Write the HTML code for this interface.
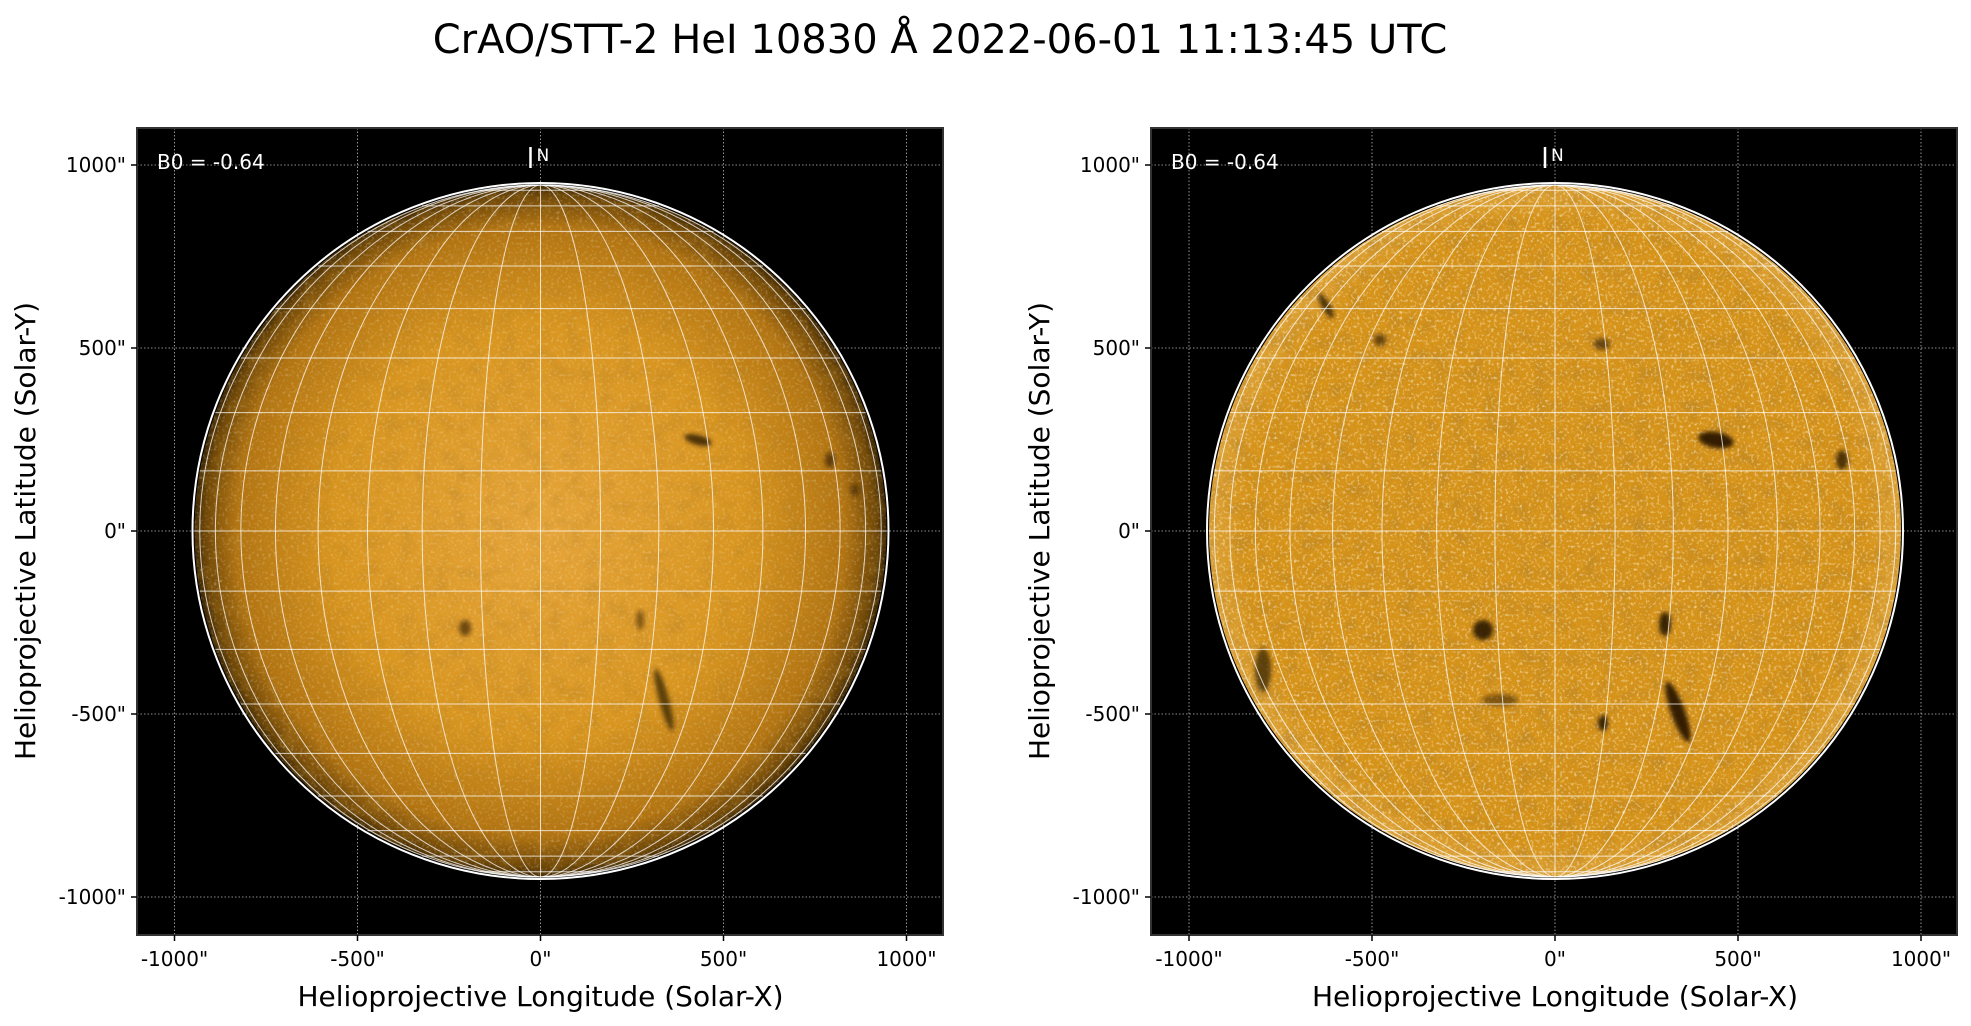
<!DOCTYPE html>
<html><head><meta charset="utf-8">
<style>
html,body{margin:0;padding:0;background:#fff;}
svg{display:block;font-family:"DejaVu Sans","Liberation Sans",sans-serif;}
</style></head>
<body>
<svg id="s" width="1971" height="1026" viewBox="0 0 1971 1026" xmlns="http://www.w3.org/2000/svg">
<defs>
<radialGradient id="gL" cx="0.5" cy="0.5" r="0.5">
<stop offset="0" stop-color="#e6a53a"/>
<stop offset="0.6" stop-color="#d8951f"/>
<stop offset="0.88" stop-color="#b27412"/>
<stop offset="0.97" stop-color="#6e4708"/>
<stop offset="1" stop-color="#3a2504"/>
</radialGradient>
<radialGradient id="gR" cx="0.5" cy="0.5" r="0.5">
<stop offset="0" stop-color="#d69319"/>
<stop offset="0.9" stop-color="#d69319"/>
<stop offset="1" stop-color="#dca238"/>
</radialGradient>
<filter id="nz" x="0" y="0" width="100%" height="100%">
<feTurbulence type="fractalNoise" baseFrequency="0.35" numOctaves="2" seed="3"/>
<feColorMatrix type="matrix" values="0 0 0 0 1  0 0 0 0 0.92  0 0 0 0 0.75  0 0 0 1.8 -0.95"/>
</filter>
<filter id="nz2" x="0" y="0" width="100%" height="100%">
<feTurbulence type="fractalNoise" baseFrequency="0.06" numOctaves="2" seed="7"/>
<feColorMatrix type="matrix" values="0 0 0 0 0.45  0 0 0 0 0.22  0 0 0 0 0.02  0 0 0 2.2 -1.0"/>
</filter>
<filter id="bl"><feGaussianBlur stdDeviation="2"/></filter>
<clipPath id="cL"><circle cx="540.5" cy="531" r="346"/></clipPath>
<clipPath id="cR"><circle cx="1555" cy="531" r="346"/></clipPath>
</defs>
<text x="940" y="53" font-size="40" text-anchor="middle" fill="#000">CrAO/STT-2 HeI 10830 Å 2022-06-01 11:13:45 UTC</text>
<g id="root"></g>
</svg>
<script>
const NS="http://www.w3.org/2000/svg";
const root=document.getElementById("root");
function el(t,a,p){const e=document.createElementNS(NS,t);for(const k in a)e.setAttribute(k,a[k]);(p||root).appendChild(e);return e;}
const s=183/500;
function panel(x0,cx,grad,clip,spots,bright){
 const y0=128,w=806,h=807,cy=531,R=346;
 el("rect",{x:x0,y:y0,width:w,height:h,fill:"#000"});
 for(let v=-1000;v<=1000;v+=500){
  const x=cx+v*s, y=cy-v*s;
  el("line",{x1:x,y1:y0,x2:x,y2:y0+h,stroke:"#bbb","stroke-width":0.8,"stroke-dasharray":"1.5,2"});
  el("line",{x1:x0,y1:y,x2:x0+w,y2:y,stroke:"#bbb","stroke-width":0.8,"stroke-dasharray":"1.5,2"});
 }
 el("circle",{cx:cx,cy:cy,r:R,fill:"url(#"+grad+")"});
 const g=el("g",{"clip-path":"url(#"+clip+")"});
 el("rect",{x:cx-R,y:cy-R,width:2*R,height:2*R,filter:"url(#nz2)",opacity:bright?0.55:0.35},g);
 el("rect",{x:cx-R,y:cy-R,width:2*R,height:2*R,filter:"url(#nz)",opacity:bright?1:0.45},g);
 const sg=el("g",{filter:"url(#bl)"},g);
 spots.forEach(p=>el("ellipse",{cx:p[0],cy:p[1],rx:p[2],ry:p[3],fill:"#2a1800",opacity:p[4]||0.8,transform:"rotate("+(p[5]||0)+" "+p[0]+" "+p[1]+")"},sg));
 for(let lat=-80;lat<=80;lat+=10){
  const y=cy-R*Math.sin(lat*Math.PI/180), hw=R*Math.cos(lat*Math.PI/180);
  el("line",{x1:cx-hw,y1:y,x2:cx+hw,y2:y,stroke:"#fff","stroke-width":1,opacity:0.75});
 }
 for(let lon=-80;lon<=80;lon+=10){
  const rx=Math.abs(R*Math.sin(lon*Math.PI/180));
  let d;
  if(rx<0.5)d=`M${cx},${cy-R}L${cx},${cy+R}`;
  else d=`M${cx},${cy-R}A${rx},${R} 0 0 ${lon>0?1:0} ${cx},${cy+R}`;
  el("path",{d:d,fill:"none",stroke:"#fff","stroke-width":1,opacity:0.75});
 }
 el("circle",{cx:cx,cy:cy,r:R+2,fill:"none",stroke:"#fff","stroke-width":2});
 el("rect",{x:x0,y:y0,width:w,height:h,fill:"none",stroke:"#333","stroke-width":2});
 for(let v=-1000;v<=1000;v+=500){
  const x=cx+v*s,y=cy-v*s;
  el("line",{x1:x,y1:y0+h,x2:x,y2:y0+h+6,stroke:"#000","stroke-width":1.5});
  el("line",{x1:x0,y1:y,x2:x0-6,y2:y,stroke:"#000","stroke-width":1.5});
  const tx=el("text",{x:x,y:y0+h+31,"font-size":20,"text-anchor":"middle"});tx.textContent=v+'"';
  const ty=el("text",{x:x0-11,y:y+7,"font-size":20,"text-anchor":"end"});ty.textContent=v+'"';
 }
 const b=el("text",{x:x0+20,y:169,"font-size":20,fill:"#fff"});b.textContent="B0 = -0.64";
 el("line",{x1:cx-10,y1:147,x2:cx-10,y2:168,stroke:"#fff","stroke-width":2.5});
 const n=el("text",{x:cx-4,y:161,"font-size":17,fill:"#fff"});n.textContent="N";
 const xl=el("text",{x:cx,y:1006,"font-size":28,"text-anchor":"middle"});xl.textContent="Helioprojective Longitude (Solar-X)";
 const yl=el("text",{x:0,y:0,"font-size":28,"text-anchor":"middle",transform:`translate(${x0-102},${cy}) rotate(-90)`});yl.textContent="Helioprojective Latitude (Solar-Y)";
}
const sL=[[698,440,14,5,0.8,15],[664,700,5,32,0.7,-15],[465,628,6,8,0.6],[830,460,5,8,0.6],[855,490,5,6,0.5],[640,620,4,10,0.5]];
const sR=[[1716,440,18,8,0.95,10],[1678,712,7,32,0.95,-20],[1483,630,10,10,0.9],[1665,624,6,12,0.9],[1603,723,5,8,0.9],[1842,460,6,10,0.8],[1326,306,4,14,0.8,-30],[1263,670,8,22,0.7],[1602,344,8,6,0.6],[1380,340,6,6,0.6],[1500,700,18,6,0.5]];
panel(137,540.5,"gL","cL",sL,false);
panel(1151,1555,"gR","cR",sR,true);
</script>
</body></html>
